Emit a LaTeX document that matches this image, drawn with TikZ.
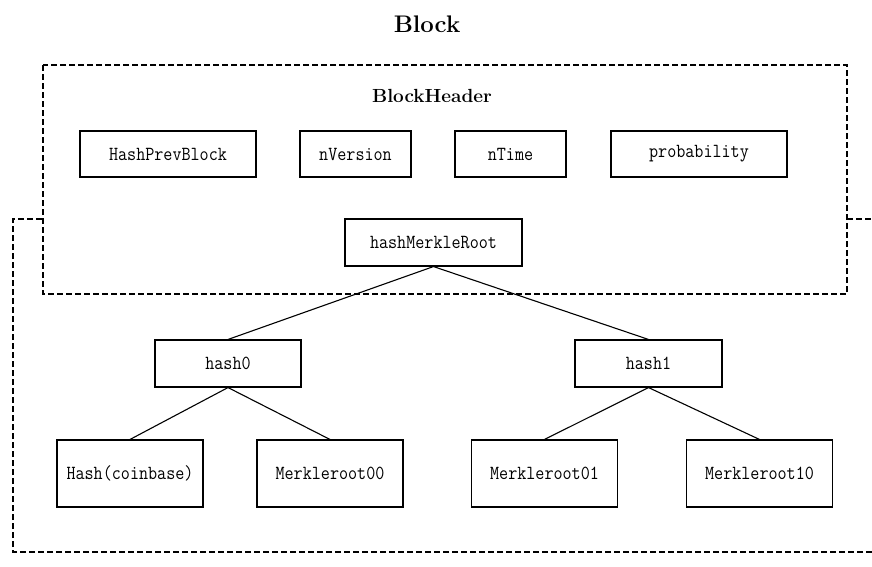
\documentclass[tikz,border=0pt]{standalone}
\usepackage{fontspec}
\usetikzlibrary{positioning}
\newfontfamily\fieldfont{Latin Modern Mono}[FakeStretch=0.88]

\begin{document}
\begin{tikzpicture}[x=1pt, y=-1pt,
  field/.style={rectangle, draw, line width=1.1pt, minimum height=46pt,
                inner sep=0pt, font=\fontsize{20}{23}\fieldfont},
  leaf/.style={field, minimum width=146pt, minimum height=67pt},
  frame/.style={dash pattern=on 6pt off 3pt, line width=1.2pt},
  link/.style={line width=1.1pt},
  title_style/.style={font=\fontsize{24}{28}\selectfont\bfseries}
]
\useasboundingbox (0,0) rectangle (872,566);

% Titles
\node[title_style] (block) at (427,24) {Block};
\node[title_style, font=\fontsize{19}{22}\selectfont\bfseries] (header) at (432,96) {BlockHeader};

% Outer and header frames
\draw[frame] (872,552) -| (13,219) -- (43,219);
\draw[frame] (847,219) -- (872,219);
\draw[frame] (43,65) rectangle (847,294);

% Header fields
\node[field, minimum width=176pt] (prev) at (168,154) {HashPrevBlock};
\node[field, minimum width=111pt] (version) at (355.5,154) {nVersion};
\node[field, minimum width=111pt] (time) at (510.5,154) {nTime};
\node[field, minimum width=176pt] (prob) at (699,154) {probability};

% Merkle tree
\node[field, minimum width=177pt, minimum height=47pt] (root) at (433.5,242.5) {hashMerkleRoot};
\node[field, minimum width=146pt, minimum height=47pt] (hzero) at (228,363.5) {hash0};
\node[field, minimum width=147pt, minimum height=47pt] (hone) at (648.5,363.5) {hash1};

\node[leaf] (coinbase) at (130,473.5) {Hash(coinbase)};
\node[leaf] (mzz) at (330,473.5) {Merkleroot00};
\node[leaf] (mzo) at (544.5,473.5) {Merkleroot01};
\node[leaf] (moz) at (759.5,473.5) {Merkleroot10};

% Links
\draw[link] (root.south) -- (hzero.north);
\draw[link] (root.south) -- (hone.north);
\draw[link] (hzero.south) -- (coinbase.north);
\draw[link] (hzero.south) -- (mzz.north);
\draw[link] (hone.south) -- (mzo.north);
\draw[link] (hone.south) -- (moz.north);

\end{tikzpicture}
\end{document}
